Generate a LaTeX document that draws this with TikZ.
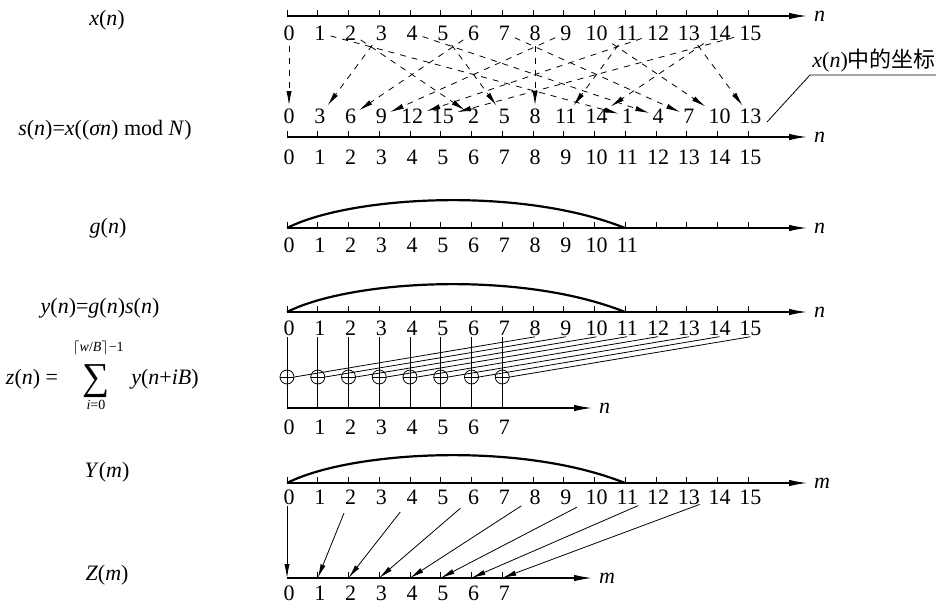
\documentclass[tikz,border=0pt]{standalone}
\usepackage{fontspec}
\setmainfont{Liberation Serif}
\newfontfamily\cjk{Noto Sans CJK SC}
\usepackage{tikz}
\usetikzlibrary{arrows.meta,calc}

\begin{document}
\begin{tikzpicture}[x=0.5pt,y=-0.5pt,font=\fontsize{11}{13}\selectfont,
  num/.style={inner sep=0.5pt},
  axis/.style={line width=0.6pt,-{Latex[length=9pt,width=3.2pt]}},
  jump/.style={dashed,-{Latex[length=7pt,width=2.6pt]},shorten <=2pt,shorten >=1pt},
  feed/.style={-{Latex[length=7pt,width=2.6pt]}},
  hump/.style={line width=1.1pt},
  sumnode/.style={circle,draw,minimum size=7pt,inner sep=0pt,
    path picture={\draw (path picture bounding box.west) -- (path picture bounding box.east);}}]
\useasboundingbox (0,0) rectangle (936,605);

% labels on the left
\node (lx) at (107,20) {\textit{x}(\textit{n})};
\node (ls) at (105,130) {\textit{s}(\textit{n})=\textit{x}((\textit{σn}) mod \textit{N})};
\node (lg) at (108,228) {\textit{g}(\textit{n})};
\node (ly) at (100,308) {\textit{y}(\textit{n})=\textit{g}(\textit{n})\textit{s}(\textit{n})};
\node (lz) at (32,379) {\textit{z}(\textit{n}) =};
\node[inner sep=0pt,font=\fontsize{19}{20}\selectfont] (lsum) at (96,381) {∑};
\node[inner sep=0.5pt,font=\fontsize{7}{8}\selectfont] (lsup) at (98,348) {$\lceil$\textit{w}/\textit{B}$\rceil$−1};
\node[inner sep=0.5pt,font=\fontsize{7}{8}\selectfont] (lsub) at (96,405) {\textit{i}=0};
\node (lyb) at (165,379) {\textit{y}(\textit{n}+\textit{iB})};
\node (lY) at (107,472) {\textit{Y}(\textit{m})};
\node (lZ) at (107,575) {\textit{Z}(\textit{m})};

% long axes
\foreach \nm/\yy/\lab in {xa/16/n, sa/137/n, ga/228/n, ya/312/n, Ya/483/m} {
  \coordinate (\nm o) at (287,\yy);
  \coordinate (\nm e) at (807,\yy);
  \draw[axis] (\nm o) -- (\nm e);
  \node[anchor=west] (\nm l) at (\nm e) {\textit{\lab}};
  \foreach \i in {0,...,15}
    \draw ($(\nm o)+(\i*30.75,0)$) -- ++(0,-6);
}

% number rows
\foreach \i in {0,...,15} {
  \pgfmathtruncatemacro\v{mod(3*\i,16)}
  \node[num] (x\i) at ({289+\i*30.75},33) {\i};
  \node[num] (s\i) at ({289+\i*30.75},116) {\v};
  \node[num] (n\i) at ({289+\i*30.75},157) {\i};
  \node[num] (y\i) at ({289+\i*30.75},328) {\i};
  \node[num] (Y\i) at ({289+\i*30.75},497) {\i};
}
\foreach \i in {0,...,11}
  \node[num] (g\i) at ({289+\i*30.75},245) {\i};

% reordering
\foreach \j in {0,...,15} {
  \pgfmathtruncatemacro\v{mod(3*\j,16)}
  \draw[jump] (x\v) -- (s\j);
}
\node[inner sep=1pt,anchor=south west] (note) at (810,75) {\textit{x}(\textit{n}){\cjk 中的坐标}};
\coordinate (lead) at (767,122);
\draw (lead) -- (note.south west) -- (note.south east);

% windows
\draw[hump] (gao) .. controls (350,196) and (520,186) .. (625,228);
\draw[hump] (yao) .. controls (350,280) and (520,270) .. (625,312);
\draw[hump] (Yao) .. controls (350,451) and (520,441) .. (625,483);

% folding into B=8 bins
\coordinate (zo) at (287,408);
\coordinate (ze) at (592,408);
\draw[axis] (zo) -- (ze);
\node[anchor=west] (zl) at (ze) {\textit{n}};
\foreach \i in {0,...,7} {
  \pgfmathtruncatemacro\k{\i+8}
  \coordinate (zt\i) at ({287+\i*30.75},408);
  \node[sumnode] (c\i) at ({287+\i*30.75},377) {};
  \node[num] (z\i) at ({289+\i*30.75},427) {\i};
  \draw (y\i.south -| zt\i) -- (zt\i);
  \draw (y\k.south) -- (c\i.east);
}

% subsampled spectrum
\coordinate (Zo) at (287,578);
\coordinate (Ze) at (592,578);
\draw[axis] (Zo) -- (Ze);
\node[anchor=west] (Zl) at (Ze) {\textit{m}};
\draw[feed] (Y0.south -| Zo) -- (Zo);
\foreach \i in {1,...,7} {
  \pgfmathtruncatemacro\k{2*\i}
  \coordinate (Zt\i) at ({287+\i*30.75},578);
  \draw (Zt\i) -- ++(0,-6);
  \draw[feed,shorten <=4pt] (Y\k) -- (Zt\i);
}
\foreach \i in {0,...,7}
  \node[num] (Z\i) at ({289+\i*30.75},593) {\i};
\end{tikzpicture}
\end{document}
